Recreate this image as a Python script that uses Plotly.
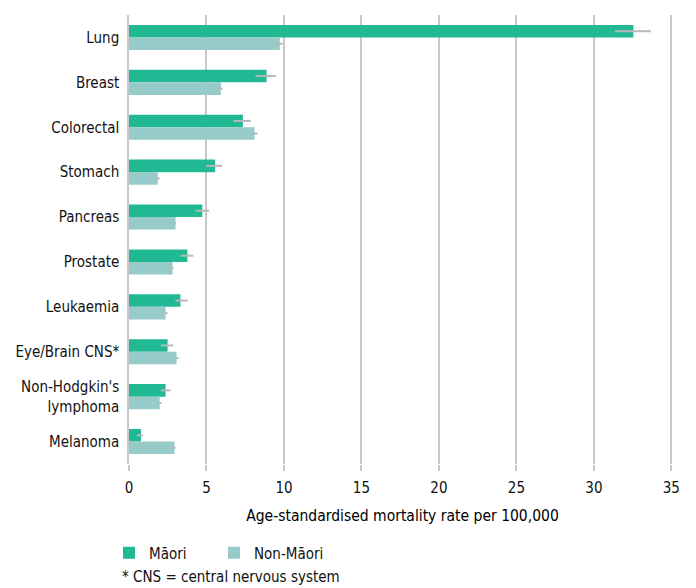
import plotly.graph_objects as go

categories = ["Lung", "Breast", "Colorectal", "Stomach", "Pancreas", "Prostate",
              "Leukaemia", "Eye/Brain CNS*", "Non-Hodgkin's<br>lymphoma", "Melanoma"]
maori = [32.55, 8.88, 7.35, 5.56, 4.73, 3.77, 3.32, 2.49, 2.36, 0.77]
maori_low = [31.37, 8.17, 6.75, 4.98, 4.28, 3.34, 3.00, 2.05, 2.05, 0.51]
maori_high = [33.68, 9.49, 7.86, 6.01, 5.18, 4.15, 3.79, 2.85, 2.68, 0.89]
non_maori = [9.73, 5.93, 8.10, 1.85, 3.00, 2.81, 2.36, 3.07, 1.98, 2.94]
non_low = [9.50, 5.69, 7.89, 1.73, 2.83, 2.64, 2.24, 2.90, 1.79, 2.73]
non_high = [9.92, 6.05, 8.29, 1.98, 3.05, 2.87, 2.49, 3.20, 2.09, 3.00]
x_ticks = [0, 5, 10, 15, 20, 25, 30, 35]

FONT = "DejaVu Sans Condensed, sans-serif"
MAORI_C = "#21b894"
NON_C = "#96cbca"
ERR_C = "#b8b8b8"
TXT = "#111111"
FS = 15

# page body has an 8px default margin; compensate so the plot lands where the reference has it
OFF = 8
PLOT_TOP, PLOT_BOTTOM = 14.5 - OFF, 464.5 - OFF
PLOT_LEFT, PLOT_RIGHT = 129 - OFF, 676 - OFF
PH = PLOT_BOTTOM - PLOT_TOP

def err(vals, lo, hi):
    return dict(type="data", symmetric=False,
                array=[h - v for v, h in zip(vals, hi)],
                arrayminus=[v - l for v, l in zip(vals, lo)],
                color=ERR_C, thickness=2, width=0)

def leg(xpix):
    return dict(orientation="h", xref="container", yref="container",
                x=(xpix - OFF) / 696, xanchor="left", y=1 - (553 - OFF) / 588,
                yanchor="middle", font=dict(family=FONT, size=FS, color=TXT),
                bgcolor="rgba(0,0,0,0)", itemwidth=30)

fig = go.Figure()
fig.add_trace(go.Bar(y=categories, x=maori, orientation="h", name="Māori",
                     marker=dict(color=MAORI_C, line=dict(width=0)),
                     error_x=err(maori, maori_low, maori_high), legend="legend"))
fig.add_trace(go.Bar(y=categories, x=non_maori, orientation="h", name="Non-Māori",
                     marker=dict(color=NON_C, line=dict(width=0)),
                     error_x=err(non_maori, non_low, non_high), legend="legend2"))

fig.update_layout(
    width=696, height=588,
    margin=dict(l=PLOT_LEFT, r=696 - PLOT_RIGHT, t=PLOT_TOP, b=588 - PLOT_BOTTOM,
                autoexpand=False),
    paper_bgcolor="white", plot_bgcolor="white",
    barmode="group", bargap=0.44, bargroupgap=0,
    font=dict(family=FONT, size=FS, color=TXT),
    showlegend=True,
    legend=leg(109),
    legend2=leg(214),
    annotations=[dict(text="* CNS = central nervous system", xref="paper", yref="paper",
                      x=(120 - 129) / (676 - 129), y=(464.5 - 578) / PH,
                      xanchor="left", yanchor="middle",
                      showarrow=False, font=dict(family=FONT, size=FS, color=TXT))],
)
fig.update_xaxes(range=[0, 35.3], tickvals=x_ticks, showgrid=True, gridcolor="#c8c8c8",
                 gridwidth=1.5, zeroline=False, ticks="outside", ticklen=6,
                 tickcolor="#c8c8c8", tickwidth=1.5, showline=False, automargin=False,
                 ticklabelstandoff=4,
                 tickfont=dict(size=FS, color=TXT),
                 title=dict(text="Age-standardised mortality rate per 100,000",
                            font=dict(size=15.5, color="#000000"), standoff=14))
fig.update_yaxes(autorange="reversed", showgrid=False, zeroline=False, showline=True,
                 linecolor="#c8c8c8", linewidth=1.5, ticks="", ticklabelstandoff=5,
                 automargin=False, tickfont=dict(size=FS, color=TXT))

fig.write_html("out.html")
